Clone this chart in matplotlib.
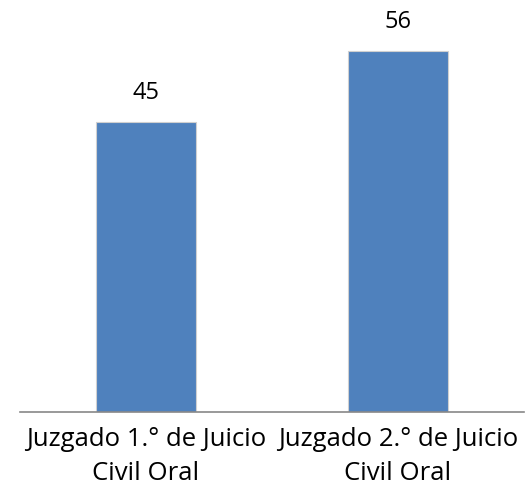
import matplotlib
matplotlib.use("Agg")
import matplotlib.pyplot as plt

categories = ["Juzgado 1.° de Juicio\nCivil Oral", "Juzgado 2.° de Juicio\nCivil Oral"]
values = [45, 56]

fig = plt.figure(figsize=(5.27, 4.96), dpi=100)
ax = fig.add_axes([20 / 527, (496 - 412) / 496, 504 / 527, 387 / 496])

x = range(len(categories))
bars = ax.bar(x, values, width=0.4, color="#4F81BD", edgecolor="#D0D0D0", linewidth=0.8)

for rect, v in zip(bars, values):
    ax.text(rect.get_x() + rect.get_width() / 2, v + 2.6, str(v),
            ha="center", va="bottom", fontsize=17, family="Open Sans")

ax.set_xlim(-0.5, 1.5)
ax.set_ylim(0, 60)
ax.set_xticks(list(x))
ax.set_xticklabels(categories, fontsize=18.5, family="Open Sans", linespacing=1.45)
ax.tick_params(axis="x", length=0, pad=11)
ax.set_yticks([])
for side in ["top", "left", "right"]:
    ax.spines[side].set_visible(False)
ax.spines["bottom"].set_color("#888888")
ax.spines["bottom"].set_linewidth(1.2)

plt.savefig("out.png", dpi=100)
plt.close()
